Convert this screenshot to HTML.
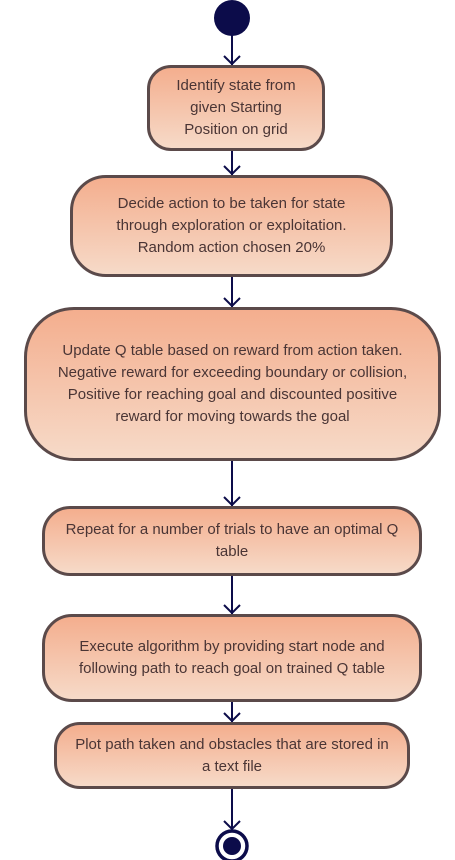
<!DOCTYPE html>
<html><head><style>
body{margin:0;width:455px;height:860px;background:#fff;position:relative;overflow:hidden;font-family:"Liberation Sans",sans-serif}
.b{position:absolute;box-sizing:border-box;border:3px solid #5b4a4a;background:linear-gradient(#f4ae8e,#f6dac8);display:flex;align-items:center;justify-content:center;text-align:center;color:#4a3535;font-size:15px;line-height:22px;padding:0}
.b span{display:block}
svg{position:absolute;left:0;top:0}
</style></head><body>
<svg width="455" height="860">
<g stroke="#0c0c4a" stroke-width="2" fill="none">
<line x1="232" y1="30" x2="232" y2="65"/><polyline points="224,56 232,64 240,56"/>
<line x1="232" y1="151" x2="232" y2="175"/><polyline points="224,166 232,174 240,166"/>
<line x1="232" y1="277" x2="232" y2="307"/><polyline points="224,298 232,306 240,298"/>
<line x1="232" y1="461" x2="232" y2="506"/><polyline points="224,497 232,505 240,497"/>
<line x1="232" y1="576" x2="232" y2="614"/><polyline points="224,605 232,613 240,605"/>
<line x1="232" y1="702" x2="232" y2="722"/><polyline points="224,713 232,721 240,713"/>
<line x1="232" y1="789" x2="232" y2="829"/><polyline points="224,821 232,829 240,821"/>
</g>
<circle cx="232" cy="18" r="18" fill="#0c0c4a"/>
<circle cx="232" cy="846" r="15" fill="#fff" stroke="#0c0c4a" stroke-width="3.5"/>
<circle cx="232" cy="846" r="9" fill="#0c0c4a"/>
</svg>
<div class="b" style="left:147px;top:65px;width:178px;height:86px;border-radius:24px"><span>Identify state from<br>given Starting<br>Position on grid</span></div>
<div class="b" style="left:70px;top:175px;width:323px;height:102px;border-radius:36px"><span>Decide action to be taken for state<br>through exploration or exploitation.<br>Random action chosen 20%</span></div>
<div class="b" style="left:24px;top:307px;width:417px;height:154px;border-radius:50px"><span>Update Q table based on reward from action taken.<br>Negative reward for exceeding boundary or collision,<br>Positive for reaching goal and discounted positive<br>reward for moving towards the goal</span></div>
<div class="b" style="left:42px;top:506px;width:380px;height:70px;border-radius:28px"><span>Repeat for a number of trials to have an optimal Q<br>table</span></div>
<div class="b" style="left:42px;top:614px;width:380px;height:88px;border-radius:30px"><span>Execute algorithm by providing start node and<br>following path to reach goal on trained Q table</span></div>
<div class="b" style="left:54px;top:722px;width:356px;height:67px;border-radius:26px"><span>Plot path taken and obstacles that are stored in<br>a text file</span></div>
</body></html>
